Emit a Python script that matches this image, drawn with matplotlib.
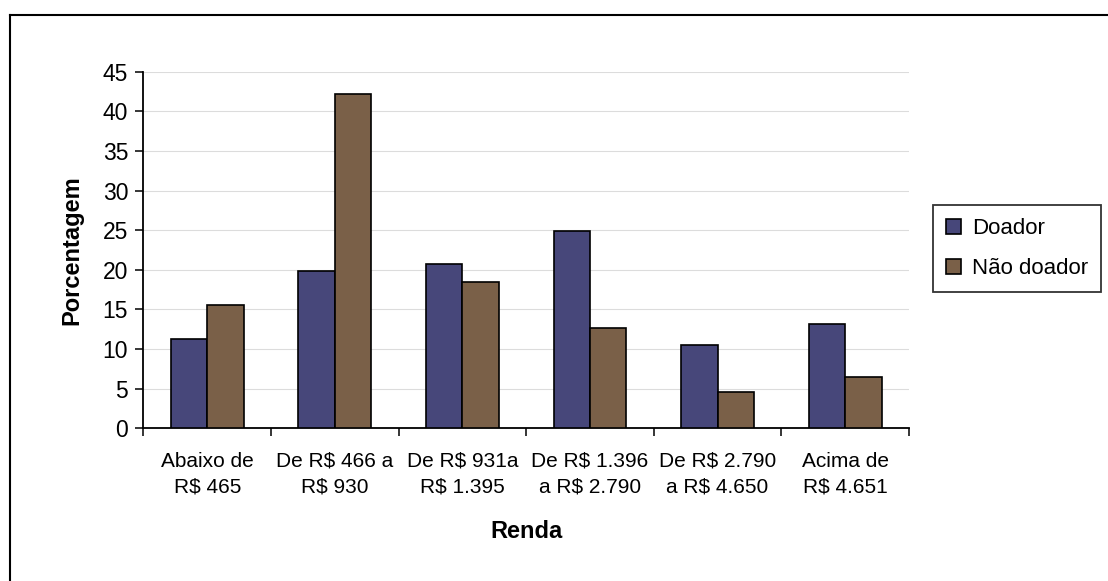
import numpy as np
import matplotlib
matplotlib.use("Agg")
from matplotlib import pyplot as plt
from matplotlib.lines import Line2D

plt.rcParams['font.family'] = ['Liberation Sans', 'DejaVu Sans']

# income brackets and share of each group (%)
categories = [
    "Abaixo de\nR$ 465",
    "De R$ 466 a\nR$ 930",
    "De R$ 931a\nR$ 1.395",
    "De R$ 1.396\na R$ 2.790",
    "De R$ 2.790\na R$ 4.650",
    "Acima de\nR$ 4.651",
]
doador = [11.3, 19.8, 20.7, 24.9, 10.5, 13.1]
nao_doador = [15.6, 42.2, 18.4, 12.7, 4.6, 6.5]
series_names = ["Doador", "Não doador"]
yticks = list(range(0, 50, 5))

fig = plt.figure(figsize=(11.08, 5.81), dpi=100)
ax = fig.add_axes([0.1295, 0.2628, 0.6909, 0.6138])

x = np.arange(len(categories))
w = 1 / 3.5
ax.bar(x - w / 2, doador, w, color="#47477a", edgecolor="black",
       linewidth=1.2, label=series_names[0], zorder=3)
ax.bar(x + w / 2, nao_doador, w, color="#7a6048", edgecolor="black",
       linewidth=1.2, label=series_names[1], zorder=3)

ax.set_xlim(-0.5, len(categories) - 0.5)
ax.set_ylim(0, 45)
ax.set_yticks(yticks)
ax.yaxis.grid(True, color="#dcdcdc", linewidth=0.8, zorder=0)

# category labels centered, tick marks at the boundaries
ax.set_xticks(x)
ax.set_xticklabels(categories, fontsize=15, linespacing=1.42)
ax.set_xticks(np.arange(-0.5, len(categories)), minor=True)
ax.tick_params(axis="x", which="major", length=0, pad=17)
ax.tick_params(axis="x", which="minor", length=6, width=1.1, direction="out")
ax.tick_params(axis="y", length=6, width=1.1, direction="out", labelsize=16.5, pad=5)

for side in ("top", "right"):
    ax.spines[side].set_visible(False)
for side in ("left", "bottom"):
    ax.spines[side].set_linewidth(1.3)

ax.set_ylabel("Porcentagem", fontsize=17, fontweight="bold")
ax.yaxis.set_label_coords(-0.079, 0.5)
ax.set_xlabel("Renda", fontsize=17, fontweight="bold")
ax.xaxis.set_label_coords(0.5, -0.257)

leg = ax.legend(loc="center left", bbox_to_anchor=(0.842, 0.572),
                bbox_transform=fig.transFigure, fontsize=16, frameon=True,
                fancybox=False, handlelength=0.65, handleheight=0.65,
                handletextpad=0.5, borderpad=0.6, labelspacing=0.85,
                borderaxespad=0)
leg.get_frame().set_edgecolor("black")
leg.get_frame().set_linewidth(1.3)

# chart border (top and left edges)
fig.add_artist(Line2D([10 / 1108, 1], [1 - 15 / 581, 1 - 15 / 581],
                      transform=fig.transFigure, color="black", linewidth=1.5))
fig.add_artist(Line2D([10 / 1108, 10 / 1108], [0, 1 - 15 / 581],
                      transform=fig.transFigure, color="black", linewidth=1.5))

fig.savefig("out.png", dpi=100)
